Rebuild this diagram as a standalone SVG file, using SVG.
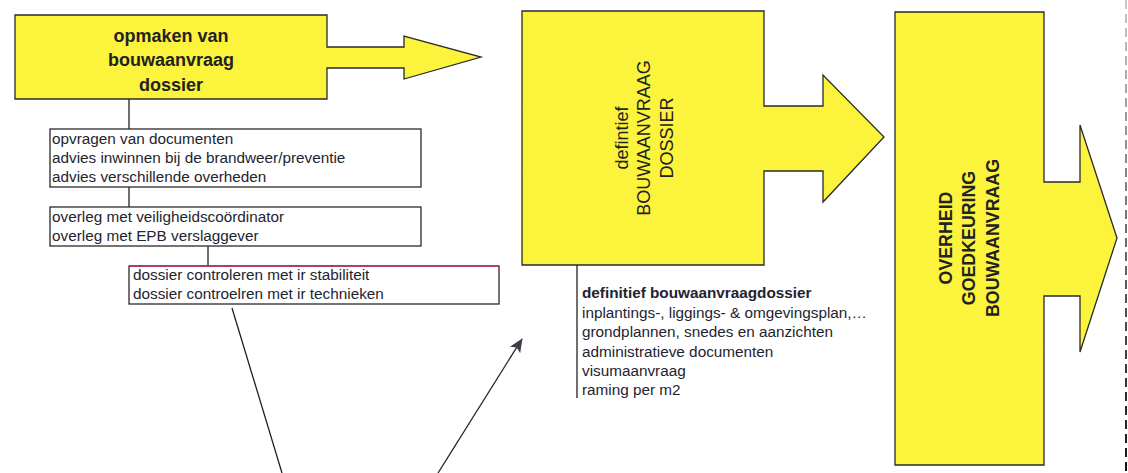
<svg xmlns="http://www.w3.org/2000/svg" width="1128" height="473" viewBox="0 0 1128 473">
<defs>
<style>
.shape{fill:#fcf43c;stroke:#2a2a2a;stroke-width:1.3}
.box{fill:#fff;stroke:#2a2a2a;stroke-width:1.3}
.conn{stroke:#222;stroke-width:1.3;fill:none}
.t{font-family:"Liberation Sans",Arial,sans-serif;font-size:15.3px;fill:#1e2430}
.tb{font-family:"Liberation Sans",Arial,sans-serif;font-size:18px;font-weight:bold;fill:#222;text-anchor:middle}
.tv{font-family:"Liberation Sans",Arial,sans-serif;font-size:18px;fill:#222;text-anchor:middle}
.tvb{font-family:"Liberation Sans",Arial,sans-serif;font-size:17.8px;font-weight:bold;fill:#222;text-anchor:middle}
</style>
<marker id="ah" markerWidth="14" markerHeight="12" refX="13" refY="6" orient="auto" markerUnits="userSpaceOnUse">
<path d="M0,0 L14,6 L0,12 L3,6 Z" fill="#3a3f48"/>
</marker>
<linearGradient id="dg" gradientUnits="userSpaceOnUse" x1="1126" y1="0" x2="1126" y2="473">
<stop offset="0" stop-color="#c8c8c8"/>
<stop offset="1" stop-color="#111"/>
</linearGradient>
</defs>
<g id="connectors">
<line class="conn" x1="129" y1="99" x2="129" y2="129"/>
<line class="conn" x1="129" y1="187" x2="129" y2="207"/>
<line class="conn" x1="208" y1="246" x2="208" y2="266"/>
<line class="conn" x1="577" y1="265" x2="577" y2="398"/>
<line class="conn" x1="232" y1="308" x2="282" y2="473"/>
<line class="conn" x1="438" y1="473" x2="522" y2="339" marker-end="url(#ah)"/>
</g>
<g id="node-opmaken">
<path class="shape" d="M15,15 H327 V47 H404 V36 L481,57 L404,79 V68 H327 V99 H15 Z"/>
<text class="tb" x="171" y="41.5">opmaken van</text>
<text class="tb" x="171" y="66">bouwaanvraag</text>
<text class="tb" x="171" y="90.5">dossier</text>
</g>
<g id="node-opvragen">
<rect class="box" x="50" y="129" width="371" height="58"/>
<text class="t" x="52" y="144">opvragen van documenten</text>
<text class="t" x="52" y="163">advies inwinnen bij de brandweer/preventie</text>
<text class="t" x="52" y="182">advies verschillende overheden</text>
</g>
<g id="node-overleg">
<rect class="box" x="50" y="207" width="371" height="39"/>
<text class="t" x="52" y="222">overleg met veiligheidscoördinator</text>
<text class="t" x="52" y="241">overleg met EPB verslaggever</text>
</g>
<g id="node-controleren">
<rect class="box" x="129" y="266" width="370" height="38"/>
<line x1="129" y1="266" x2="499" y2="266" stroke="#c0305a" stroke-width="1.3"/>
<text class="t" x="133" y="280">dossier controleren met ir stabiliteit</text>
<text class="t" x="133" y="299">dossier controelren met ir technieken</text>
</g>
<g id="node-definitief">
<path class="shape" d="M522,11 H764 V106 H823 V75 L884,137 L823,202 V171 H764 V265 H522 Z"/>
<text class="tv" x="628" y="138" transform="rotate(-90 628 138)">defintief</text>
<text class="tv" x="650" y="138" transform="rotate(-90 650 138)">BOUWAANVRAAG</text>
<text class="tv" x="673" y="138" transform="rotate(-90 673 138)">DOSSIER</text>
</g>
<g id="node-dossier-inhoud">
<text class="t" x="582" y="298" font-weight="bold">definitief bouwaanvraagdossier</text>
<text class="t" x="582" y="317.5">inplantings-, liggings- &amp; omgevingsplan,…</text>
<text class="t" x="582" y="337">grondplannen, snedes en aanzichten</text>
<text class="t" x="582" y="356.5">administratieve documenten</text>
<text class="t" x="582" y="376">visumaanvraag</text>
<text class="t" x="582" y="395">raming per m2</text>
</g>
<g id="node-overheid">
<path class="shape" d="M895,12 H1044 V182 H1080 V125 L1117,238 L1080,352 V296 H1044 V465 H895 Z"/>
<text class="tvb" x="952" y="238" transform="rotate(-90 952 238)">OVERHEID</text>
<text class="tvb" x="975" y="238" transform="rotate(-90 975 238)">GOEDKEURING</text>
<text class="tvb" x="999" y="238" transform="rotate(-90 999 238)">BOUWAANVRAAG</text>
</g>
<line x1="1126" y1="0" x2="1126" y2="473" stroke="url(#dg)" stroke-width="2" stroke-dasharray="9,5"/>
</svg>
